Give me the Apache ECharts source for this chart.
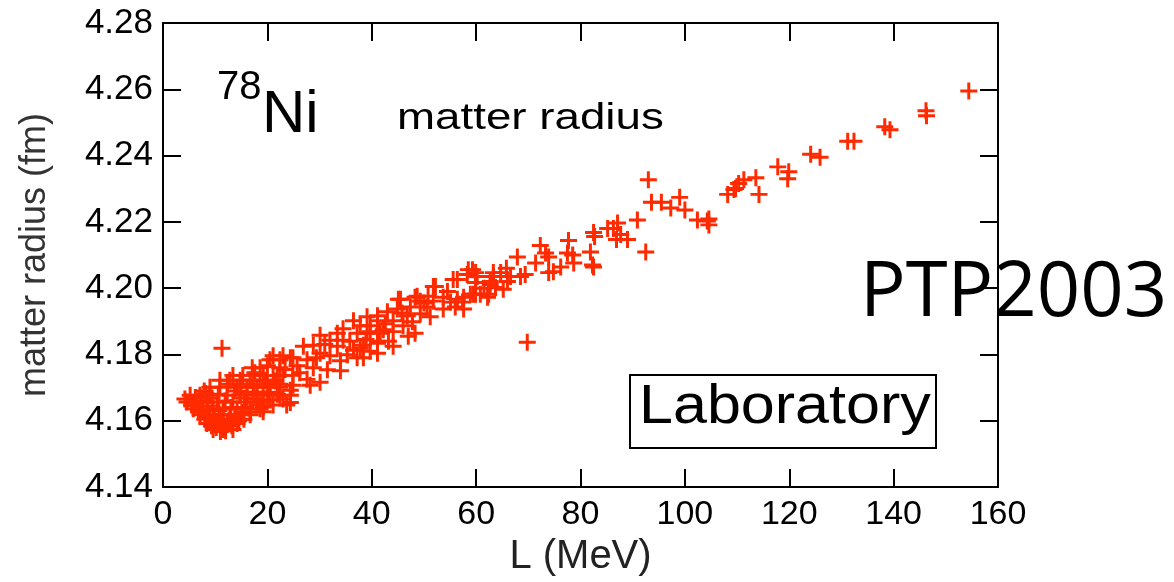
<!DOCTYPE html>
<html>
<head>
<meta charset="utf-8">
<script src="https://cdn.jsdelivr.net/npm/echarts@6/dist/echarts.min.js"></script>
<style>
  html, body { margin: 0; padding: 0; background: #fff; }
  #chart { width: 1174px; height: 582px; }
</style>
</head>
<body>
<div id="chart"></div>
<script>
// L (MeV) vs matter radius (fm)
const clusterPoints = [
  [4.2,4.1666],[4.6,4.1657],[5.2,4.1677],[5.5,4.1648],[5.8,4.1636],[6.5,4.1657],[6.2,4.1670],
  [7.1,4.1677],[7.1,4.1618],[7.7,4.1636],[7.9,4.1690],[8.4,4.1657],[8.4,4.1592],[8.8,4.1610],
  [9.0,4.1677],[9.0,4.1618],[9.0,4.1701],[9.6,4.1636],[9.6,4.1574],[10.0,4.1600],[10.4,4.1657],
  [10.4,4.1592],[10.9,4.1701],[10.9,4.1618],[10.9,4.1722],[11.3,4.1819],[11.5,4.1636],[11.5,4.1574],
  [11.8,4.1583],[12.3,4.1677],[12.3,4.1592],[12.3,4.1710],[12.8,4.1618],[12.8,4.1722],[13.4,4.1657],
  [13.4,4.1574],[13.4,4.1737],[13.0,4.1640],[14.2,4.1701],[14.2,4.1636],[14.2,4.1592],[14.8,4.1677],
  [14.8,4.1618],[14.8,4.1722],[14.8,4.1710],[15.3,4.1737],[15.5,4.1605],[16.1,4.1701],[16.1,4.1657],
  [16.1,4.1686],[16.7,4.1636],[16.7,4.1618],[16.7,4.1722],[16.7,4.1627],[17.1,4.1760],[17.3,4.1677],
  [17.3,4.1737],[17.3,4.1710],[18.0,4.1701],[18.0,4.1686],[18.0,4.1666],[18.6,4.1636],[18.6,4.1722],
  [18.6,4.1760],[18.6,4.1648],[19.2,4.1657],[19.2,4.1737],[19.2,4.1686],[19.2,4.1627],[19.2,4.1642],
  [20.0,4.1677],[20.0,4.1766],[20.0,4.1710],[20.5,4.1701],[20.5,4.1784],[20.5,4.1663],[20.5,4.1686],
  [21.1,4.1737],[21.1,4.1796],[21.1,4.1648],[21.9,4.1737],[21.9,4.1680],[22.4,4.1701],[22.4,4.1677],
  [22.4,4.1784],[22.4,4.1760],[22.4,4.1710],[23.0,4.1737],[23.0,4.1666],[23.0,4.1796],[23.7,4.1648],
  [24.4,4.1677],[24.4,4.1790],[24.4,4.1692],[24.9,4.1737],[24.9,4.1707],[24.9,4.1790],[24.4,4.1655],
  [6.0,4.1645],[6.8,4.1628],[7.4,4.1660],[8.0,4.1605],[8.6,4.1645],[9.3,4.1585],[9.8,4.1612],
  [10.2,4.1580],[10.7,4.1630],[11.0,4.1568],[11.6,4.1605],[12.0,4.1570],[12.6,4.1600],[13.2,4.1585],
  [13.8,4.1610],[14.5,4.1600],[15.1,4.1625],[15.8,4.1640],[8.2,4.1682],[9.4,4.1668],[10.6,4.1680],
  [11.9,4.1660],[13.7,4.1690],[15.6,4.1668],[17.6,4.1745],[19.6,4.1722],[21.5,4.1720],[23.4,4.1755]
];
const bandPoints = [
  [25.7,4.1766],[26.9,4.1825],[27.6,4.1784],[27.6,4.1725],[28.2,4.1707],[28.8,4.1828],[28.8,4.1760],
  [30.1,4.1858],[30.1,4.1804],[30.1,4.1716],[31.5,4.1754],[32.0,4.1843],[32.0,4.1796],[33.4,4.1864],
  [33.4,4.1825],[34.0,4.1781],[34.0,4.1751],[34.5,4.1878],[34.5,4.1843],[35.3,4.1799],[36.5,4.1902],
  [36.5,4.1813],[37.2,4.1864],[37.2,4.1790],[37.8,4.1887],[37.8,4.1819],[38.4,4.1828],[38.4,4.1790],
  [39.1,4.1914],[39.1,4.1864],[39.7,4.1869],[39.7,4.1887],[39.7,4.1810],[41.1,4.1902],[41.1,4.1917],
  [41.1,4.1834],[41.1,4.1840],[41.1,4.1804],[41.6,4.1864],[42.6,4.1893],[43.0,4.1929],[43.2,4.1840],
  [44.1,4.1902],[44.1,4.1869],[44.1,4.1825],[44.9,4.1937],[45.5,4.1967],[45.1,4.1967],[46.0,4.1887],
  [46.8,4.1917],[47.0,4.1855],[47.4,4.1943],[47.8,4.1899],[48.3,4.1973],[48.3,4.1864],[48.7,4.1976],
  [49.3,4.1961],[49.3,4.1923],[50.6,4.1943],[50.8,4.1976],[51.2,4.1914],[51.8,4.1961],[51.8,4.2005],
  [52.2,4.2005],[53.7,4.1973],[53.7,4.1937],[55.1,4.1958],[55.6,4.2026],[56.0,4.1943],[56.4,4.2026],
  [56.4,4.1967],[57.4,4.1958],[57.6,4.1937],[57.6,4.1973],[58.3,4.2041],[58.5,4.2056],[58.9,4.1982],
  [59.3,4.2056],[59.5,4.1982],[59.9,4.2047],[59.9,4.2017],[59.9,4.1982],[60.2,4.2035],[60.8,4.1982],
  [62.2,4.1973],[62.4,4.1982],[62.7,4.2020],[62.7,4.2011],[63.3,4.2047],[63.3,4.2035],[63.7,4.2002],
  [64.7,4.2047],[65.2,4.1997],[66.0,4.2020],[66.6,4.2035],[67.9,4.2094],[68.5,4.2035],[69.4,4.2041],
  [69.8,4.1837],
  [26.2,4.1745],[29.4,4.1790],[31.0,4.1830],[35.8,4.1840],[38.9,4.1845],[42.2,4.1875],[45.8,4.1925],
  [50.0,4.1955],[54.5,4.1990],[61.5,4.2000],[65.8,4.2060]
];
const upperPoints = [
  [71.4,4.2076],[72.3,4.2129],[73.3,4.2106],[73.9,4.2094],[73.9,4.2047],[74.8,4.2050],[76.2,4.2064],
  [77.5,4.2106],[77.7,4.2144],[78.5,4.2100],[78.7,4.2076],[81.9,4.2109],[82.5,4.2168],[82.5,4.2064],
  [82.7,4.2156],[82.3,4.2070],[85.2,4.2180],[86.3,4.2180],[86.9,4.2147],[87.1,4.2197],[87.7,4.2162],
  [89.0,4.2147],[90.9,4.2206],[92.5,4.2109],[93.0,4.2327],[93.6,4.2259],[95.5,4.2259],[97.3,4.2242],
  [99.0,4.2274],[100.0,4.2236],[102.4,4.2206],[104.3,4.2203],[104.6,4.2191],[104.6,4.2209],
  [108.2,4.2283],[109.4,4.2298],[109.7,4.2301],[110.3,4.2316],[111.3,4.2327],[113.6,4.2333],
  [114.2,4.2283],[117.8,4.2366],[119.7,4.2330],[119.9,4.2351],[124.1,4.2404],[125.9,4.2395],
  [131.2,4.2443],[132.4,4.2443],[138.3,4.2487],[139.3,4.2478],[146.2,4.2535],[146.3,4.2520],
  [154.4,4.2595]
];

const xMin = 0, xMax = 160, xStep = 20;
const yMin = 4.14, yMax = 4.28, yStep = 0.02;

const FONT = 'Liberation Sans';
const RED = '#ff2a00';
const PLUS = 'path://M6.6,0H9.4V6.6H16V9.4H9.4V16H6.6V9.4H0V6.6H6.6Z';

const chart = echarts.init(document.getElementById('chart'));

// frame: ticks inside on all four sides
const lineStyle = {color: '#000', width: 2};
const xBase = {
  type: 'value', min: xMin, max: xMax, interval: xStep,
  axisLine: {onZero: false, lineStyle},
  axisTick: {inside: true, length: 18, lineStyle},
  splitLine: {show: false}
};
const yBase = {
  type: 'value', min: yMin, max: yMax, interval: yStep,
  axisLine: {onZero: false, lineStyle},
  axisTick: {inside: true, length: 18, lineStyle},
  splitLine: {show: false}
};

const option = {
  backgroundColor: '#fff',
  animation: false,
  grid: {left: 163, right: 176, top: 23, bottom: 85},
  xAxis: [
    Object.assign({}, xBase, {
      position: 'bottom',
      axisLabel: {color: '#000', fontSize: 34, fontFamily: FONT, margin: 11},
      name: 'L (MeV)', nameLocation: 'middle', nameGap: 40,
      nameTextStyle: {color: '#222', fontSize: 40, fontFamily: FONT}
    }),
    Object.assign({}, xBase, {position: 'top', axisLabel: {show: false}})
  ],
  yAxis: [
    Object.assign({}, yBase, {
      position: 'left',
      axisLabel: {color: '#000', fontSize: 35, fontFamily: FONT, margin: 10,
        formatter: v => v.toFixed(2)},
      name: 'matter radius (fm)', nameLocation: 'middle', nameGap: 110,
      nameTextStyle: {color: '#333', fontSize: 36, fontFamily: FONT}
    }),
    Object.assign({}, yBase, {position: 'right', axisLabel: {show: false}})
  ],
  series: [
    {
      type: 'scatter',
      data: clusterPoints.concat(bandPoints, upperPoints),
      symbol: PLUS,
      symbolSize: 17,
      itemStyle: {color: RED, opacity: 1}
    }
  ],
  graphic: [
    {type: 'text', x: 217, y: 88, style: {text: '78', font: `40px "${FONT}"`, fill: '#000', verticalAlign: 'middle'}},
    {type: 'text', x: 262, y: 115, style: {text: 'Ni', font: `60px "${FONT}"`, fill: '#000', verticalAlign: 'middle'}},
    {type: 'text', x: 397, y: 119, scaleX: 1.27, style: {text: 'matter radius', font: `36px "${FONT}"`, fill: '#000', verticalAlign: 'middle'}},
    {type: 'text', x: 860, y: 294, style: {text: 'PTP2003', font: `76px "Open Sans"`, fill: '#000', verticalAlign: 'middle'}},
    {type: 'rect', shape: {x: 630, y: 375, width: 306, height: 73}, style: {fill: 'none', stroke: '#000', lineWidth: 2}},
    {type: 'text', x: 639, y: 408, scaleX: 1.09, style: {text: 'Laboratory', font: `56px "${FONT}"`, fill: '#000', verticalAlign: 'middle'}}
  ]
};

chart.setOption(option);
</script>
</body>
</html>
